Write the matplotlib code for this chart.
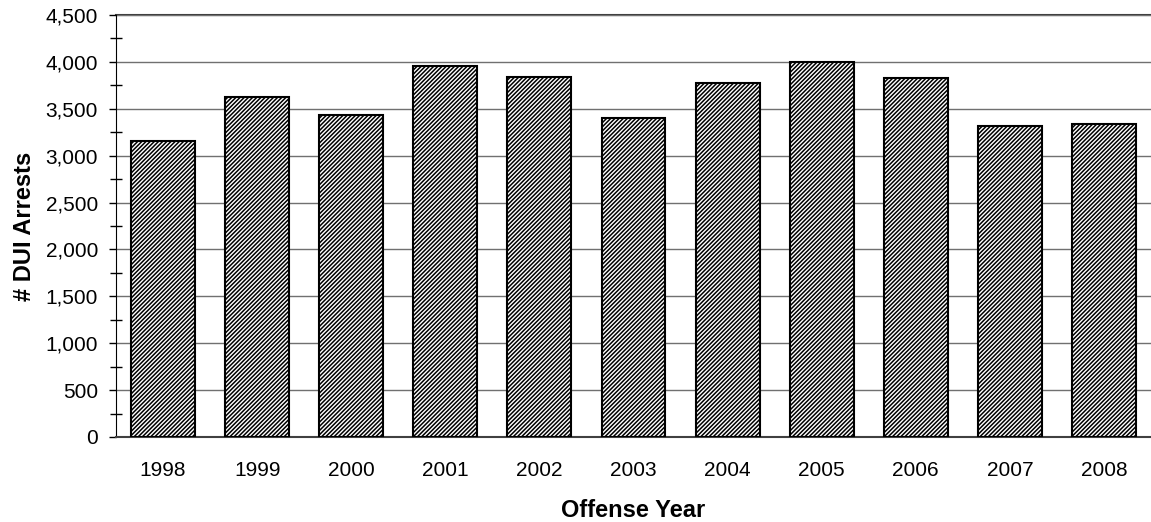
import matplotlib
matplotlib.use("Agg")
import matplotlib.pyplot as plt
from matplotlib.ticker import MultipleLocator, FuncFormatter

years = ["1998", "1999", "2000", "2001", "2002", "2003", "2004", "2005", "2006", "2007", "2008"]
arrests = [3152, 3626, 3436, 3960, 3840, 3400, 3780, 4000, 3833, 3320, 3338]

plt.rcParams['font.family'] = ['Liberation Sans', 'DejaVu Sans']
plt.rcParams['hatch.linewidth'] = 1.1

fig = plt.figure(figsize=(11.51, 5.22), dpi=100)
ax = fig.add_axes([116 / 1151, 1 - 437 / 522, 1035 / 1151, 422 / 522])

x = range(len(years))
ax.bar(x, arrests, width=0.68, color="white", edgecolor="black", linewidth=1.5,
       hatch="////////", zorder=3)

ax.set_xlim(-0.5, len(years) - 0.5)
ax.set_ylim(0, 4500)
ax.yaxis.set_major_locator(MultipleLocator(500))
ax.yaxis.set_minor_locator(MultipleLocator(250))
ax.yaxis.set_major_formatter(FuncFormatter(lambda v, p: f"{int(v):,}"))
ax.set_xticks(list(x))
ax.set_xticklabels(years)

ax.grid(axis="y", which="major", color="#707070", linewidth=1, zorder=0)
ax.tick_params(axis="y", which="major", direction="out", length=5, width=1, labelsize=15, pad=8)
ax.tick_params(axis="y", which="minor", direction="inout", length=8, width=1)
ax.tick_params(axis="x", length=0, labelsize=15, pad=17)

for s in ["top", "right"]:
    ax.spines[s].set_visible(False)
ax.spines["left"].set_color("black")
ax.spines["bottom"].set_color("#404040")
ax.spines["bottom"].set_linewidth(1.5)
ax.axhline(4500, color="#404040", linewidth=1.5, zorder=1, clip_on=False)

ax.set_ylabel("# DUI Arrests", fontsize=17, fontweight="bold", labelpad=7)
ax.set_xlabel("Offense Year", fontsize=17, fontweight="bold", labelpad=14)

fig.savefig("out.png", dpi=100)
